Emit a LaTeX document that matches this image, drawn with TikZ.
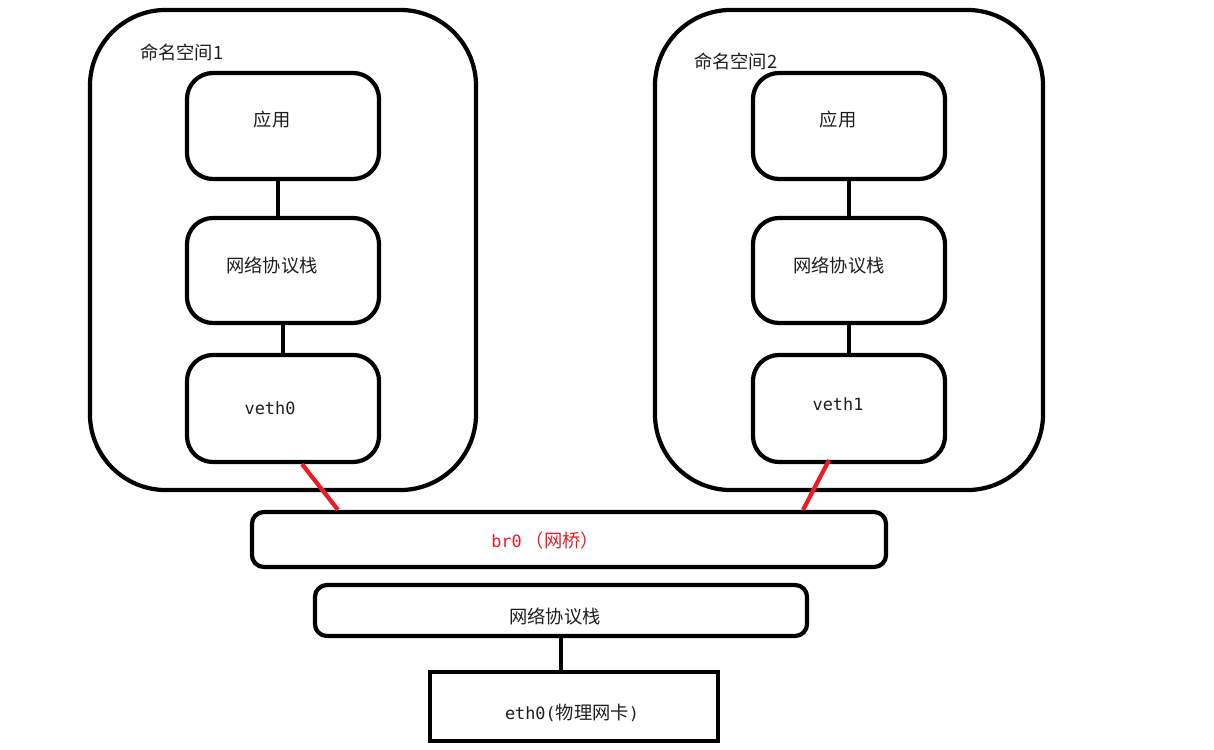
\documentclass[tikz,border=0pt]{standalone}
\usepackage{fontspec}
\usepackage{xcolor}
\usepackage{tikz}
\usetikzlibrary{positioning}
\setmainfont{Noto Sans CJK SC}
\newfontfamily\mono{DejaVu Sans Mono}
\definecolor{rougep}{RGB}{237,28,36}
\definecolor{noirt}{RGB}{30,30,30}
% texte décalé dans sa boîte
\newcommand{\decal}[3]{\raisebox{#2}[0pt][0pt]{\makebox[0pt]{\hspace*{#1}\hspace*{#1}#3}}}
\newcommand{\mt}{\mono\fontsize{12}{14}\selectfont}

\begin{document}
\begin{tikzpicture}[x=0.025cm, y=-0.025cm, line width=3pt,
  bx/.style 2 args={rectangle, rounded corners=#2, draw=black, line width=3pt,
                    minimum width=#1, inner sep=0pt, text=noirt,
                    font=\fontsize{13}{15}\selectfont},
  lien/.style={draw=black, line width=3pt},
  rlien/.style={draw=rougep, line width=3pt}]

\useasboundingbox (0,0) rectangle (1214,749);

% ── namespace 1 ──
\node[bx={9.65cm}{1.9cm}, minimum height=12cm] (ns1) at (283,250) {};
\node[anchor=west, inner sep=0pt, text=noirt, font=\fontsize{13}{15}\selectfont] (ns1lbl) at (138,52) {命名空间1};
\node[bx={4.8cm}{0.65cm}, minimum height=2.65cm] (app1) at (283,126) {\decal{-7.8pt}{-0.6pt}{应用}};
\node[bx={4.8cm}{0.65cm}, minimum height=2.625cm] (stk1) at (283,270.5) {\decal{-7.8pt}{-1.7pt}{网络协议栈}};
\node[bx={4.8cm}{0.65cm}, minimum height=2.675cm] (veth0) at (283,408.5) {\decal{-9.2pt}{-4.4pt}{\mt veth0}};

% ── namespace 2 ──
\node[bx={9.7cm}{1.9cm}, minimum height=12cm] (ns2) at (849,250) {};
\node[anchor=west, inner sep=0pt, text=noirt, font=\fontsize{13}{15}\selectfont] (ns2lbl) at (692,61) {命名空间2};
\node[bx={4.8cm}{0.65cm}, minimum height=2.65cm] (app2) at (849,126) {\decal{-7.8pt}{-0.6pt}{应用}};
\node[bx={4.8cm}{0.65cm}, minimum height=2.625cm] (stk2) at (849,270.5) {\decal{-7.1pt}{-1.7pt}{网络协议栈}};
\node[bx={4.8cm}{0.65cm}, minimum height=2.675cm] (veth1) at (849,408.5) {\decal{-7.8pt}{-1.2pt}{\mt veth1}};

% ── hôte ──
\node[bx={15.85cm}{0.3cm}, minimum height=1.375cm, text=rougep] (br0) at (569,539.5)
  {\decal{-17pt}{-6pt}{{\mt br0} （网桥）}};
\node[bx={12.3cm}{0.3cm}, minimum height=1.275cm] (hstk) at (561,610.5) {\decal{-4.3pt}{-9.5pt}{网络协议栈}};
\node[bx={7.2cm}{0pt}, minimum height=1.725cm] (eth0) at (574,706.5)
  {\decal{-1.4pt}{-9.5pt}{{\mt eth0(}物理网卡{\mt )}}};

% ── liens ──
\draw[lien] ([xshift=-0.125cm]app1.south) -- ([xshift=-0.125cm]stk1.north);
\draw[lien] (stk1.south) -- (veth0.north);
\draw[lien] (app2.south) -- (stk2.north);
\draw[lien] (stk2.south) -- (veth1.north);
\draw[lien] (hstk.south) -- (hstk.south |- eth0.north);

\draw[rlien] ([xshift=0.475cm]veth0.south) -- ([xshift=-5.775cm]br0.north);
\draw[rlien] ([xshift=-0.5cm,yshift=0.1cm]veth1.south) -- ([xshift=5.85cm]br0.north);

\end{tikzpicture}
\end{document}
